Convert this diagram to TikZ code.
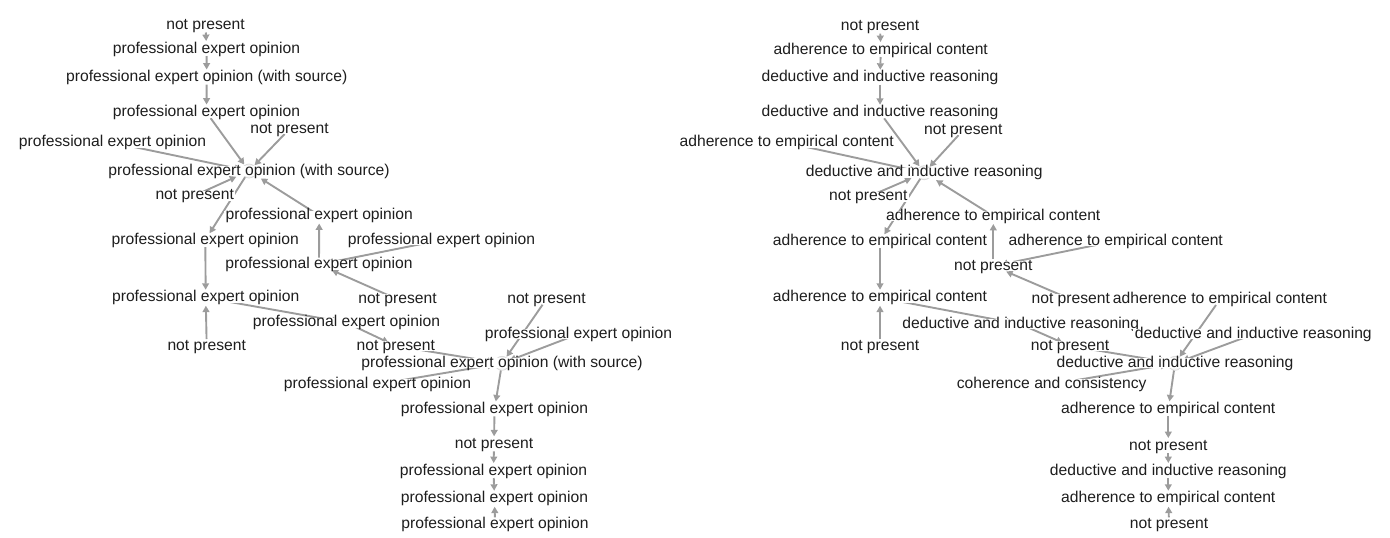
\documentclass[tikz,border=0pt]{standalone}
\usepackage{fontspec}
\setmainfont{Liberation Sans}
\usepackage{xcolor}
\usepackage{tikz}
\usetikzlibrary{arrows.meta,backgrounds}

\definecolor{edgegray}{HTML}{9C9C9C}
\definecolor{labelink}{HTML}{1E1E1E}

\begin{document}
\begin{tikzpicture}[x=0.5pt, y=-0.5pt,
    lbl/.style={font=\fontsize{7.83pt}{9pt}\selectfont, text=labelink,
      fill=white, inner xsep=0.8pt, inner ysep=-1.1pt,
      text height=5.6pt, text depth=1.6pt},
    edge/.style={draw=edgegray, line width=0.95pt,
      -{Triangle[length=3.2pt, width=3.4pt]},
      shorten <=3.5pt, shorten >=4pt},
    wide/.style={shorten >=7pt},
    hub/.style={fill=gray!7, draw=gray!28, line width=0.4pt}]
  \useasboundingbox (0,0) rectangle (1390,537);

  % left graph
  \foreach \n/\x/\y/\t in {
      l1/205.5/25.5/not present,
      l2/206.5/49/professional expert opinion,
      l3/206.7/77.5/professional expert opinion (with source),
      l4/206.5/112.5/professional expert opinion,
      l5/289.5/129/not present,
      l6/112.5/142.5/professional expert opinion,
      l7/249/171/professional expert opinion (with source),
      l8/194.7/195.5/not present,
      l9/319.2/215.5/professional expert opinion,
      l10/205.3/240/professional expert opinion,
      l11/441.5/240/professional expert opinion,
      l12/319/264.5/professional expert opinion,
      l13/205.7/297.7/professional expert opinion,
      l14/397.5/299.3/not present,
      l15/346.5/322.7/professional expert opinion,
      l16/206.7/346/not present,
      l17/395.8/346/not present,
      l18/546.5/299/not present,
      l19/578.5/334/professional expert opinion,
      l20/502/363.3/professional expert opinion (with source),
      l21/377.5/384.3/professional expert opinion,
      l22/494.5/409.3/professional expert opinion,
      l23/494/444.3/not present,
      l24/493.5/471/professional expert opinion,
      l25/494.5/498.7/professional expert opinion,
      l26/495/524.3/professional expert opinion}
    \node[lbl] (\n) at (\x,\y) {\t};

  % right graph
  \foreach \n/\x/\y/\t in {
      r1/880/26.7/not present,
      r2/880.8/50/adherence to empirical content,
      r3/880/77.7/deductive and inductive reasoning,
      r4/880/112.7/deductive and inductive reasoning,
      r5/963.3/130/not present,
      r6/786.7/142.7/adherence to empirical content,
      r7/924.2/172.7/deductive and inductive reasoning,
      r8/868.3/196.7/not present,
      r9/993.3/216/adherence to empirical content,
      r10/880/241/adherence to empirical content,
      r11/1115.8/241/adherence to empirical content,
      r12/993.3/266/not present,
      r13/880/297.7/adherence to empirical content,
      r14/1070.8/299.3/not present,
      r15/1020.8/324.3/deductive and inductive reasoning,
      r16/880/346/not present,
      r17/1070/346/not present,
      r18/1220/299.3/adherence to empirical content,
      r19/1253.3/334.3/deductive and inductive reasoning,
      r20/1175/363.3/deductive and inductive reasoning,
      r21/1051.7/384.3/coherence and consistency,
      r22/1168.3/409.3/adherence to empirical content,
      r23/1168.3/446/not present,
      r24/1168.3/471/deductive and inductive reasoning,
      r25/1168.3/498.7/adherence to empirical content,
      r26/1169/524.3/not present}
    \node[lbl] (\n) at (\x,\y) {\t};

  \begin{scope}[on background layer]
    \foreach \s in {l,r} {
      \foreach \a/\b in {1/2, 2/3, 3/4, 4/7, 5/7, 6/7, 7/10,
          12/9, 11/12, 10/13, 16/13, 13/15, 15/17, 17/20,
          18/20, 19/20, 21/20, 20/22, 22/23, 23/24, 24/25, 26/25}
        \draw[edge] (\s\a.center) -- (\s\b.center);
      \foreach \a/\b in {8/7, 9/7, 14/12}
        \draw[edge, wide] (\s\a.center) -- (\s\b.center);
    }
    \foreach \h in {l7,l20,r7,r20}
      \draw[hub] (\h.center) circle[radius=3.5pt];
  \end{scope}
\end{tikzpicture}
\end{document}
